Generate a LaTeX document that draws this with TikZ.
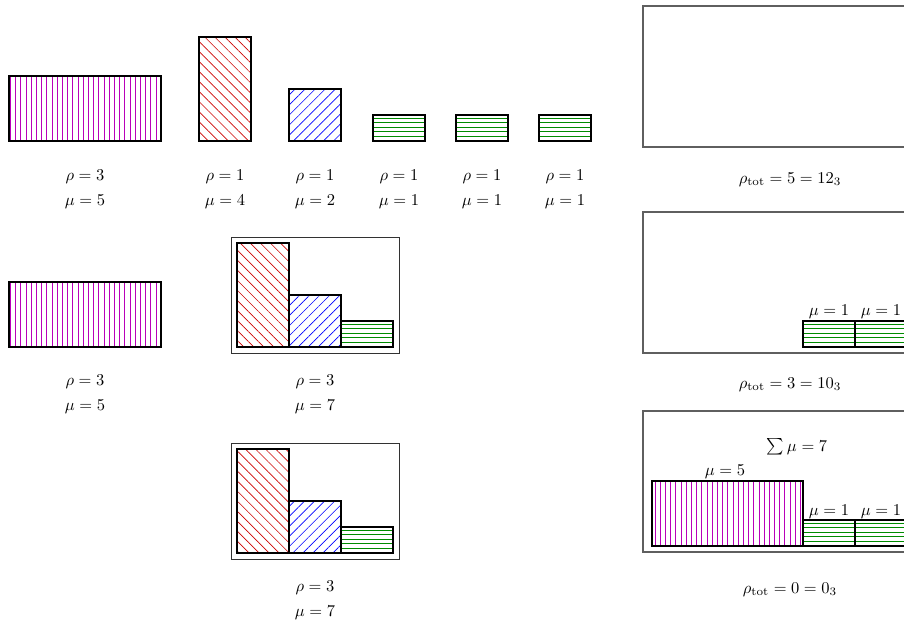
\documentclass[tikz,border=0pt]{standalone}
\usetikzlibrary{patterns.meta}
\definecolor{magc}{RGB}{185,0,185}
\definecolor{grnc}{RGB}{0,140,0}
\definecolor{redc}{RGB}{205,0,0}
\definecolor{framec}{RGB}{50,50,50}
\definecolor{bigc}{RGB}{95,95,95}
\tikzset{
 blk/.style={draw=black, line width=0.9pt},
 magblk/.style={blk, pattern={Lines[angle=90,distance=3.15pt,line width=0.5pt]}, pattern color=magc},
 redblk/.style={blk, pattern={Lines[angle=-45,distance=4.3pt,line width=0.4pt]}, pattern color=redc},
 blublk/.style={blk, pattern={Lines[angle=45,distance=4.3pt,line width=0.4pt]}, pattern color=blue},
 grnblk/.style={blk, path picture={\foreach \k in {1,...,8}{\draw[grnc,line width=0.6pt] (path picture bounding box.south west) ++(0,\k*2.75pt) -- ++(200pt,0);}}},
 framebox/.style={draw=framec, line width=0.5pt},
 bigbox/.style={draw=bigc, line width=0.7pt},
 lab/.style={anchor=base, inner sep=0pt},
}
\begin{document}
\begin{tikzpicture}[x=0.606pt,y=-0.606pt]
\useasboundingbox (0,0) rectangle (904,625);
\clip (0,0) rectangle (904,625);
% ---- row 1
\draw[magblk] (9,76) rectangle (161,141);
\draw[redblk] (199,37) rectangle (251,141);
\draw[blublk] (289,89) rectangle (341,141);
\draw[grnblk] (373,115) rectangle (425,141);
\draw[grnblk] (456,115) rectangle (508,141);
\draw[grnblk] (539,115) rectangle (591,141);
\node[lab] (r1a) at (85,180) {$\rho=3$};
\node[lab] (m1a) at (85,205) {$\mu=5$};
\node[lab] (r1b) at (225,180) {$\rho=1$};
\node[lab] (m1b) at (225,205) {$\mu=4$};
\node[lab] (r1c) at (315,180) {$\rho=1$};
\node[lab] (m1c) at (315,205) {$\mu=2$};
\node[lab] (r1d) at (399,180) {$\rho=1$};
\node[lab] (m1d) at (399,205) {$\mu=1$};
\node[lab] (r1e) at (482,180) {$\rho=1$};
\node[lab] (m1e) at (482,205) {$\mu=1$};
\node[lab] (r1f) at (565,180) {$\rho=1$};
\node[lab] (m1f) at (565,205) {$\mu=1$};
% ---- row 2
\draw[magblk] (9,282) rectangle (161,347);
\node[lab] (r2a) at (85,385) {$\rho=3$};
\node[lab] (m2a) at (85,410) {$\mu=5$};
\draw[framebox] (231,237) rectangle (399,353);
\draw[redblk] (237,243) rectangle (289,347);
\draw[blublk] (289,295) rectangle (341,347);
\draw[grnblk] (341,321) rectangle (393,347);
\node[lab] (r2b) at (315,385) {$\rho=3$};
\node[lab] (m2b) at (315,410) {$\mu=7$};
% ---- row 3
\draw[framebox] (231,443) rectangle (399,559);
\draw[redblk] (237,449) rectangle (289,553);
\draw[blublk] (289,501) rectangle (341,553);
\draw[grnblk] (341,527) rectangle (393,553);
\node[lab] (r3b) at (315,591) {$\rho=3$};
\node[lab] (m3b) at (315,616) {$\mu=7$};
% ---- right column
\draw[bigbox] (643,6) rectangle (950,147);
\node[lab] (t1) at (790,183) {$\rho_{\mathrm{tot}}=5=12_3$};
\draw[bigbox] (643,212) rectangle (950,353);
\draw[grnblk] (803,321) rectangle (855,347);
\draw[grnblk] (855,321) rectangle (907,347);
\node[lab] (g2a) at (829,315) {$\mu=1$};
\node[lab] (g2b) at (881,315) {$\mu=1$};
\node[lab] (t2) at (790,388) {$\rho_{\mathrm{tot}}=3=10_3$};
\draw[bigbox] (643,411) rectangle (950,552);
\draw[magblk] (652,481) rectangle (803,546);
\draw[grnblk] (803,520) rectangle (855,546);
\draw[grnblk] (855,520) rectangle (907,546);
\node[lab] (s3) at (797,451) {$\sum\mu=7$};
\node[lab] (m3m) at (725,475) {$\mu=5$};
\node[lab] (g3a) at (829,515) {$\mu=1$};
\node[lab] (g3b) at (881,515) {$\mu=1$};
\node[lab] (t3) at (790,593) {$\rho_{\mathrm{tot}}=0=0_3$};
\end{tikzpicture}
\end{document}
